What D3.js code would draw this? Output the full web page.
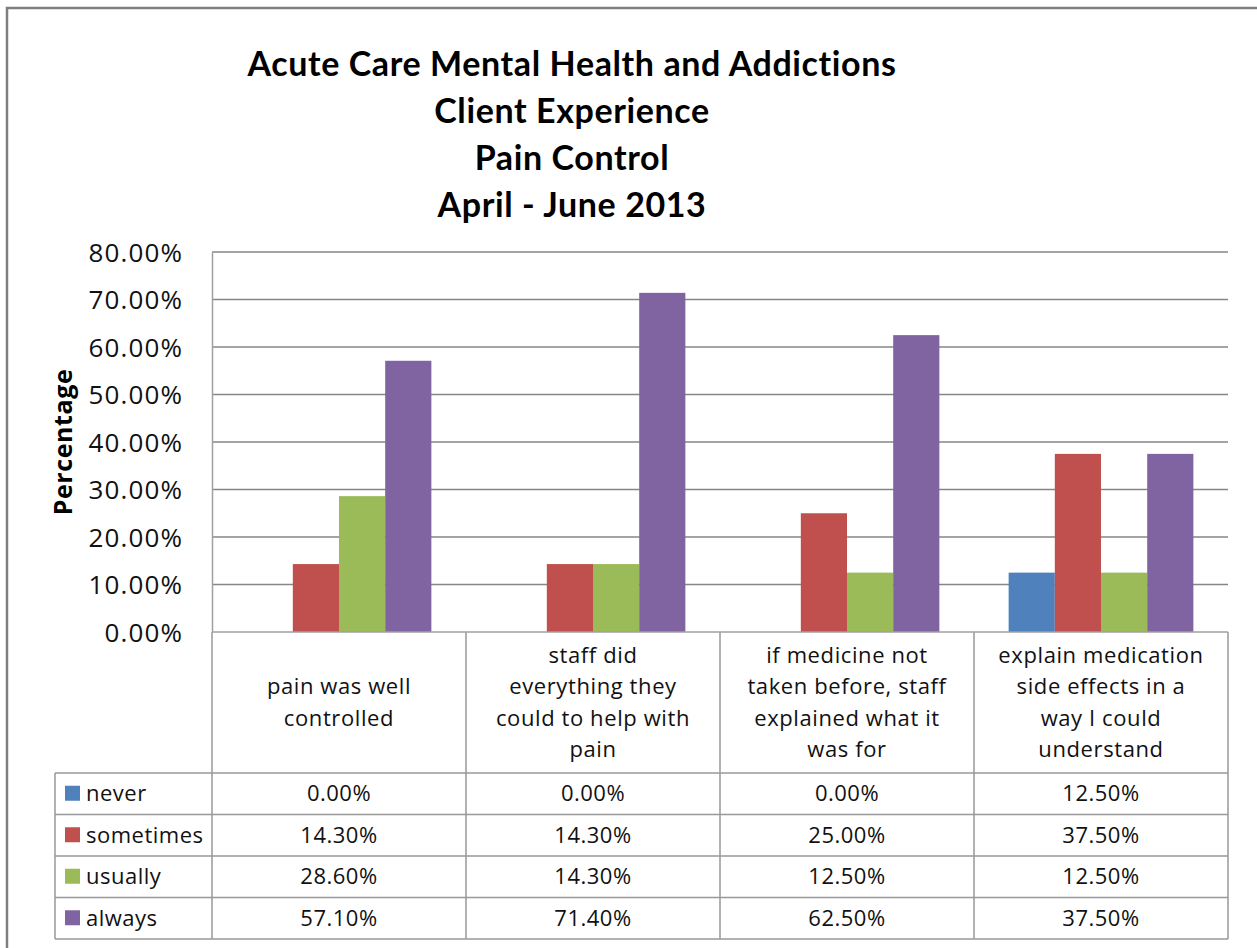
<!DOCTYPE html>
<html><head><meta charset="utf-8">
<script src="https://cdn.jsdelivr.net/npm/d3@7"></script>
<style>
html,body{margin:0;padding:0;background:#fff;}
svg{display:block;font-family:"Open Sans",Lato,sans-serif;}
</style></head>
<body>
<svg id="chart" width="1257" height="948"></svg>
<script>
const titleLines = ["Acute Care Mental Health and Addictions","Client Experience","Pain Control","April - June 2013"];
const categories = [
  ["pain was well","controlled"],
  ["staff did","everything they","could to help with","pain"],
  ["if medicine not","taken before,  staff","explained what it","was for"],
  ["explain medication","side effects in a","way I could","understand"]
];
const seriesNames = ["never","sometimes","usually","always"];
const seriesColors = ["#4F81BD","#C0504D","#9BBB59","#8064A2"];
const never = [0.0, 0.0, 0.0, 0.125];
const sometimes = [0.143, 0.143, 0.25, 0.375];
const usually = [0.286, 0.143, 0.125, 0.125];
const always = [0.571, 0.714, 0.625, 0.375];
const yTicks = [0,0.1,0.2,0.3,0.4,0.5,0.6,0.7,0.8];
const yLabel = "Percentage";

const values = [never, sometimes, usually, always];
const svg = d3.select("#chart");

// outer border
svg.append("rect").attr("x",7).attr("y",8).attr("width",1300).attr("height",1000)
  .attr("fill","none").attr("stroke","#7f7f7f").attr("stroke-width",2.5);

const L=212, R=1228, T=252, B=632;
const x0 = d3.scaleBand().domain(d3.range(categories.length)).range([L,R]).padding(0);
const bw = x0.bandwidth();
const gap = bw*1.5/5.5;
const x1 = d3.scaleBand().domain(seriesNames).range([gap/2, bw-gap/2]).padding(0);
const y = d3.scaleLinear().domain([0,0.8]).range([B,T]);

// gridlines
svg.append("g").selectAll("line").data(yTicks.slice(1)).join("line")
  .attr("x1",L).attr("x2",R).attr("y1",d=>y(d)).attr("y2",d=>y(d))
  .attr("stroke","#868686").attr("stroke-width",1.3);

// y axis
const yAxis = d3.axisLeft(y).tickValues(yTicks).tickSize(0).tickPadding(29)
  .tickFormat(d=>(d*100).toFixed(2)+"%");
const ga = svg.append("g").attr("transform",`translate(${L},0)`).call(yAxis);
ga.select(".domain").attr("stroke","#a0a0a0").attr("stroke-width",1.5);
ga.selectAll("text").attr("font-size",26).attr("letter-spacing",1.1).attr("fill","#111")
  .attr("font-family","'Open Sans', sans-serif").attr("dy","0.36em");

// bars
seriesNames.forEach((s,si)=>{
  svg.append("g").selectAll("rect").data(values[si]).join("rect")
    .attr("x",(d,i)=>x0(i)+x1(s))
    .attr("width",x1.bandwidth())
    .attr("y",d=>y(d))
    .attr("height",d=>B-y(d))
    .attr("fill",seriesColors[si]);
});

// y label
svg.append("text").attr("transform",`translate(72,442) rotate(-90)`)
  .attr("text-anchor","middle").attr("font-size",25).attr("letter-spacing",0.6).attr("font-weight","bold")
  .attr("font-family","'Open Sans', sans-serif").text(yLabel);

// title
svg.append("g").selectAll("text").data(titleLines).join("text")
  .attr("x",572).attr("y",(d,i)=>76+i*47).attr("text-anchor","middle")
  .attr("font-family","Lato, sans-serif").attr("letter-spacing",0.6)
  .attr("font-size",34).attr("font-weight","bold").text(d=>d);

// data table
const rowTop = 773, rowH = 41.5, tableL = 55;
const tableBottom = rowTop + rowH*4;
const lineColor = "#999";
const tg = svg.append("g");
d3.range(categories.length+1).forEach(i=>{
  const xx = i<categories.length ? x0(i) : R;
  tg.append("line").attr("x1",xx).attr("x2",xx).attr("y1",B).attr("y2",tableBottom)
    .attr("stroke",lineColor).attr("stroke-width",1.5);
});
tg.append("line").attr("x1",L).attr("x2",R).attr("y1",B).attr("y2",B).attr("stroke","#a0a0a0").attr("stroke-width",1.5);
d3.range(5).forEach(r=>{
  tg.append("line").attr("x1",tableL).attr("x2",R).attr("y1",rowTop+r*rowH).attr("y2",rowTop+r*rowH)
    .attr("stroke",lineColor).attr("stroke-width",1.5);
});
tg.append("line").attr("x1",tableL).attr("x2",tableL).attr("y1",rowTop).attr("y2",tableBottom)
  .attr("stroke",lineColor).attr("stroke-width",1.5);

// header texts
categories.forEach((lines,i)=>{
  const cx = x0(i)+bw/2, cy = (B+rowTop)/2;
  const lh = 31.5;
  const t = tg.append("text").attr("text-anchor","middle").attr("font-size",22)
    .attr("letter-spacing",0.6).attr("fill","#111");
  lines.forEach((ln,j)=>{
    t.append("tspan").attr("x",cx).attr("y",cy + (j-(lines.length-1)/2)*lh + 7.5).text(ln);
  });
});

// rows
seriesNames.forEach((s,si)=>{
  const ry = rowTop + si*rowH;
  tg.append("rect").attr("x",65).attr("y",ry+rowH/2-8).attr("width",15).attr("height",15).attr("fill",seriesColors[si]);
  tg.append("text").attr("x",86).attr("y",ry+rowH/2+7.5).attr("font-size",22).attr("letter-spacing",0.5)
    .attr("fill","#111").text(s);
  values[si].forEach((v,i)=>{
    tg.append("text").attr("x",x0(i)+bw/2).attr("y",ry+rowH/2+7.5).attr("text-anchor","middle")
      .attr("font-size",22).attr("letter-spacing",0.5).attr("fill","#111").text((v*100).toFixed(2)+"%");
  });
});
</script>
</body></html>
